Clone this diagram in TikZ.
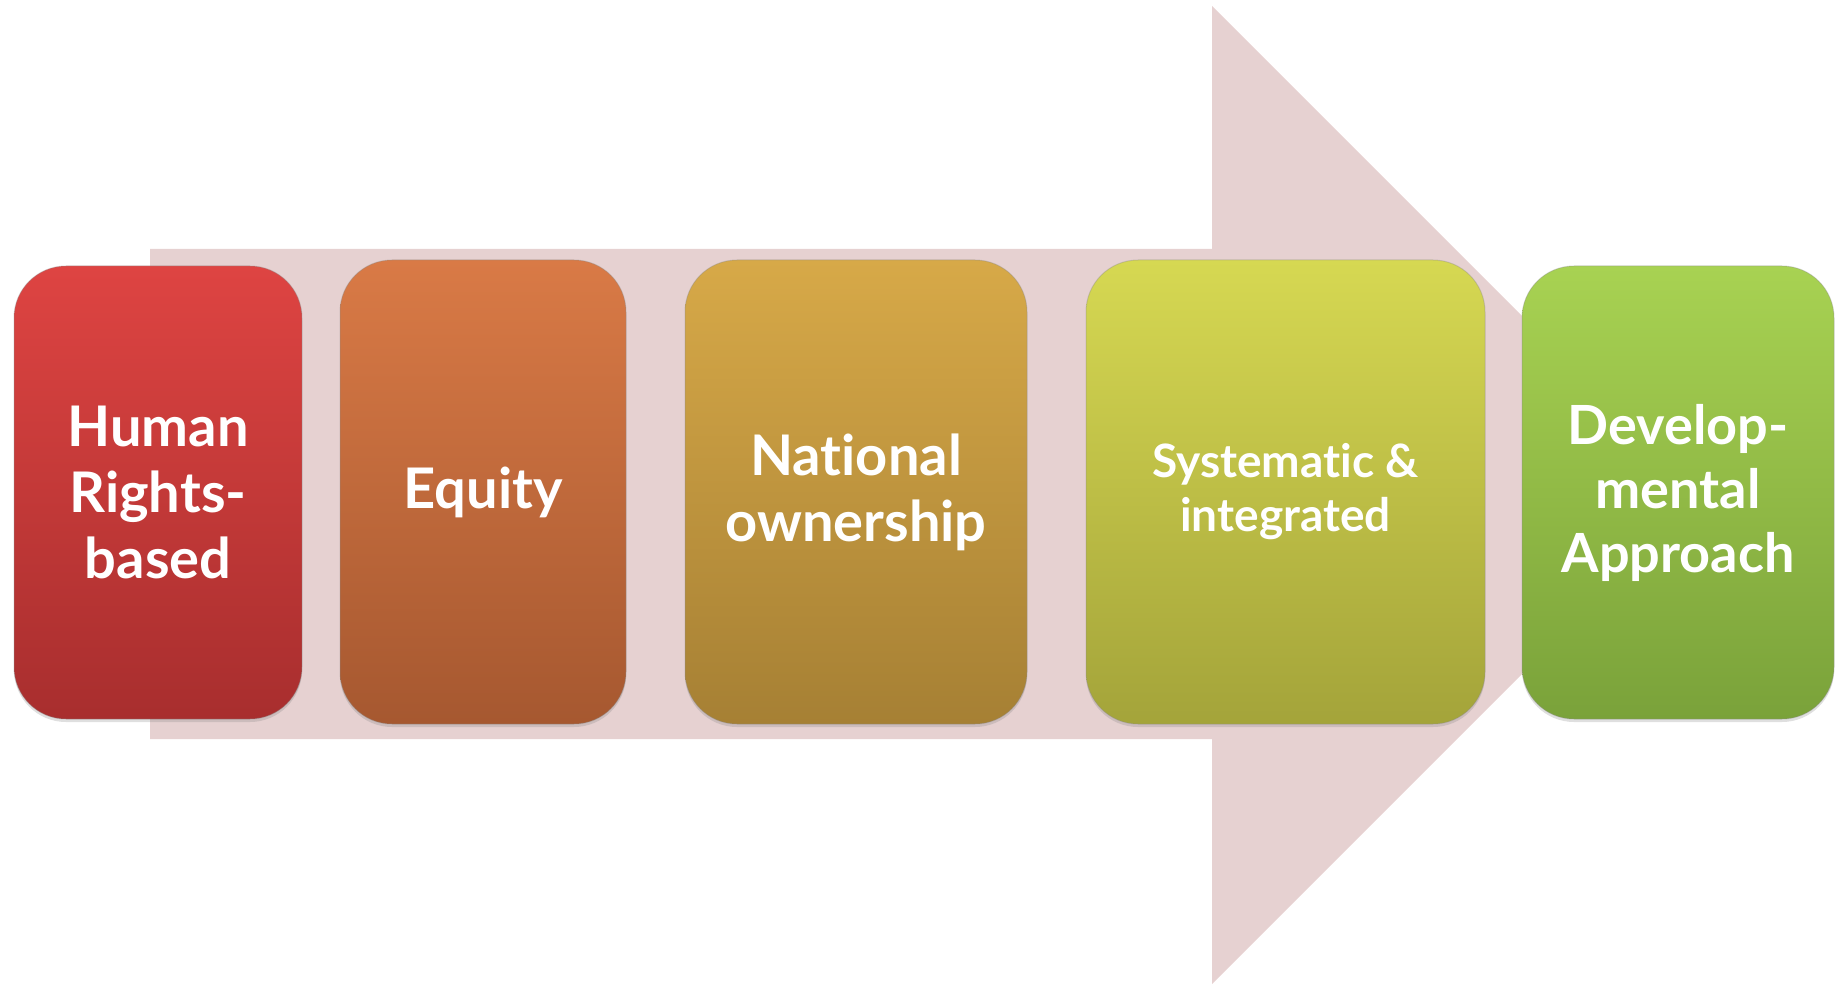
\documentclass[tikz,border=0pt]{standalone}
\usepackage{fontspec}
\setmainfont{Lato}[Ligatures={NoCommon}]
\usetikzlibrary{shadows}

\definecolor{arrowpink}{RGB}{230,209,209}
\definecolor{redtop}{RGB}{222,68,66}
\definecolor{redbot}{RGB}{168,46,46}
\definecolor{orangetop}{RGB}{217,122,70}
\definecolor{orangebot}{RGB}{166,88,48}
\definecolor{goldtop}{RGB}{215,169,72}
\definecolor{goldbot}{RGB}{166,128,52}
\definecolor{limetop}{RGB}{214,216,82}
\definecolor{limebot}{RGB}{164,164,58}
\definecolor{greentop}{RGB}{168,210,82}
\definecolor{greenbot}{RGB}{122,162,58}

\tikzset{
  stage/.style={rectangle, rounded corners=52pt, inner sep=0pt,
    minimum height=464pt, text=white, align=center,
    draw=black!45, draw opacity=0.35, line width=1pt,
    drop shadow={shadow xshift=0pt, shadow yshift=-3pt, opacity=0.25},
    font=\fontsize{56}{66}\selectfont\bfseries}
}

\begin{document}
\begin{tikzpicture}[x=1pt, y=-1pt]
    \useasboundingbox (0, 0) rectangle (1836, 984);

    % big arrow behind the stages
    \coordinate (tail top) at (150, 249);
    \coordinate (tail bot) at (150, 739);
    \coordinate (neck top) at (1212, 249);
    \coordinate (neck bot) at (1212, 739);
    \coordinate (head top) at (1212, 6);
    \coordinate (head bot) at (1212, 984);
    \coordinate (tip) at (1701, 495);

    \fill[arrowpink]
      (tail top) -- (neck top) -- (head top) -- (tip)
      -- (head bot) -- (neck bot) -- (tail bot) -- cycle;

    % the five stages
    \node[stage, top color=redtop, bottom color=redbot,
      minimum width=288pt, minimum height=453pt]
      (rights) at (158, 492.5) {Human\\Rights-\\based};
    \node[stage, top color=orangetop, bottom color=orangebot,
      minimum width=286pt]
      (equity) at (483, 492) {Equity};
    \node[stage, top color=goldtop, bottom color=goldbot,
      minimum width=342pt]
      (national) at (856, 492) {National\\ownership};
    \node[stage, top color=limetop, bottom color=limebot,
      minimum width=399pt, font=\fontsize{46}{54}\selectfont\bfseries]
      (systematic) at (1285.5, 492) {Systematic \&\\integrated};
    \node[stage, top color=greentop, bottom color=greenbot,
      minimum width=312pt, minimum height=453pt,
      font=\fontsize{54}{64}\selectfont\bfseries]
      (develop) at (1678, 492.5) {Develop-\\mental\\Approach};
  \end{tikzpicture}
\end{document}
